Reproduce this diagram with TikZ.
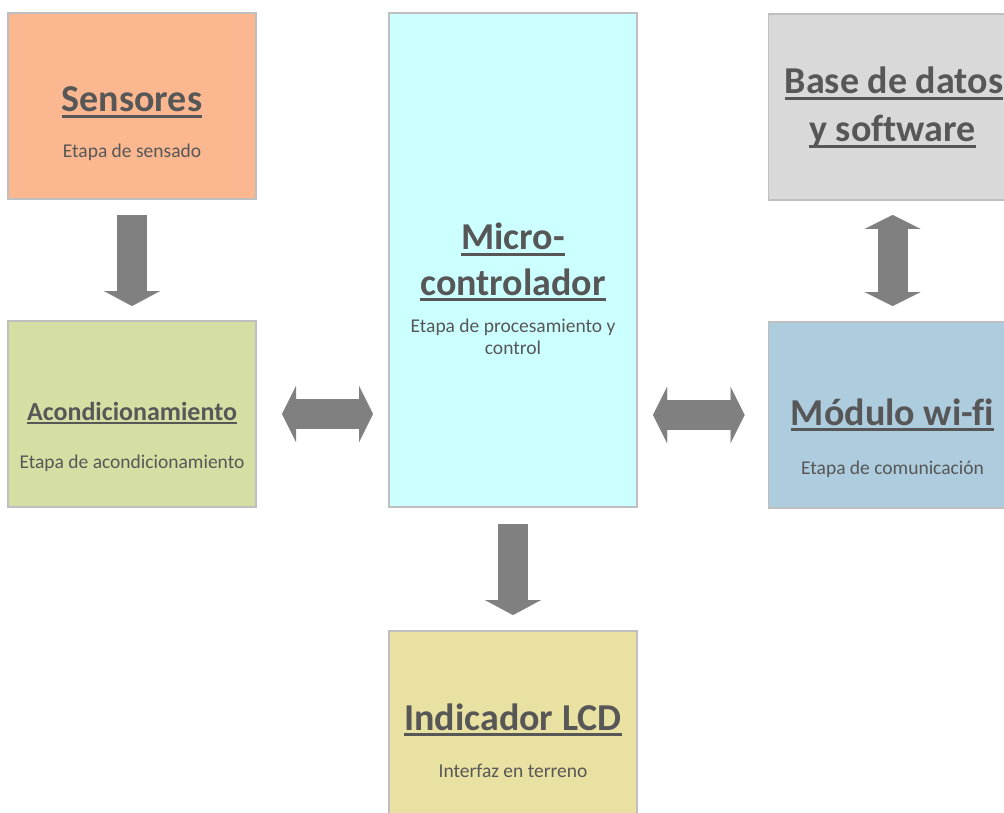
\documentclass[tikz,border=0pt]{standalone}
\usepackage{fontspec}
\setmainfont[Ligatures={NoCommon}]{Carlito}
\usetikzlibrary{arrows.meta}
\definecolor{txt}{HTML}{575757}
\definecolor{bordc}{HTML}{BFBFBF}
\definecolor{arrc}{HTML}{808080}
\definecolor{csens}{HTML}{FBB890}
\definecolor{cacond}{HTML}{D6DFA3}
\definecolor{cmicro}{HTML}{CCFFFF}
\definecolor{cbase}{HTML}{D9D9D9}
\definecolor{cwifi}{HTML}{ADCCDD}
\definecolor{clcd}{HTML}{E8E1A2}
\newcommand\ulin[1]{\setbox0=\hbox{#1}\rlap{\rule[-0.16em]{\wd0}{0.075em}}\box0}
\tikzset{
  blk/.style={draw=bordc, line width=1.2pt, minimum width=248pt, inner sep=0pt, outer sep=0pt},
  ttl/.style={anchor=base, inner sep=0pt, text=txt, font=\fontsize{38}{40}\selectfont\bfseries},
  sub/.style={anchor=base, inner sep=0pt, text=txt, font=\fontsize{19.5}{22}\selectfont},
  barr/.style={draw=arrc, line width=30pt, -{Triangle[width=56pt, length=15pt, line width=0.01pt]}},
  darr/.style={draw=arrc, line width=30pt, {Triangle[width=56pt, length=14pt, line width=0.01pt]}-{Triangle[width=56pt, length=14pt, line width=0.01pt]}}
}
\begin{document}
\begin{tikzpicture}[x=1pt, y=-1pt]
\useasboundingbox (0,0) rectangle (1004,813);
\clip (0,0) rectangle (1004,813);
\fill[white] (0,0) rectangle (1004,813);
% boxes
\node[blk, fill=csens, minimum height=186pt] (sens) at (132,106) {};
\node[blk, fill=cacond, minimum height=186pt] (acond) at (132,414) {};
\node[blk, fill=cmicro, minimum height=494pt] (micro) at (513,260) {};
\node[blk, fill=cbase, minimum height=186pt] (base) at (892.5,107) {};
\node[blk, fill=cwifi, minimum height=186pt] (wifi) at (892.5,415) {};
\node[blk, fill=clcd, minimum height=186pt] (lcd) at (513,724) {};
% texts
\node[ttl] (sensT) at (132,112) {\ulin{Sensores}};
\node[sub] (sensS) at (132,158) {Etapa de sensado};
\node[ttl, font=\fontsize{26}{28}\selectfont\bfseries] (acondT) at (132,420) {\ulin{Acondicionamiento}};
\node[sub] (acondS) at (132,468) {Etapa de acondicionamiento};
\node[ttl] (microT1) at (513,250) {\ulin{Micro-}};
\node[ttl] (microT2) at (513,295) {\ulin{controlador}};
\node[sub] (microS1) at (513,332) {Etapa de procesamiento y};
\node[sub] (microS2) at (513,354) {control};
\node[ttl] (baseT1) at (894,94) {\ulin{Base de datos}};
\node[ttl] (baseT2) at (892.5,142) {\ulin{y software}};
\node[ttl] (wifiT) at (892.5,425) {\ulin{Módulo wi-fi}};
\node[sub] (wifiS) at (892.5,474) {Etapa de comunicación};
\node[ttl] (lcdT) at (513,730) {\ulin{Indicador LCD}};
\node[sub] (lcdS) at (513,777) {Interfaz en terreno};
% arrows
\draw[barr, shorten <=16pt, shorten >=15pt] (sens.south) -- (acond.north);
\draw[darr, shorten <=26pt, shorten >=16pt] (acond.east) -- (acond.east -| micro.west);
\draw[darr, shorten <=16pt, shorten >=24pt] (micro.east |- wifi.west) -- (wifi.west);
\draw[darr, shorten <=15pt, shorten >=16pt] (base.south) -- (wifi.north);
\draw[barr, shorten <=17pt, shorten >=16pt] (micro.south) -- (lcd.north);
\end{tikzpicture}
\end{document}
